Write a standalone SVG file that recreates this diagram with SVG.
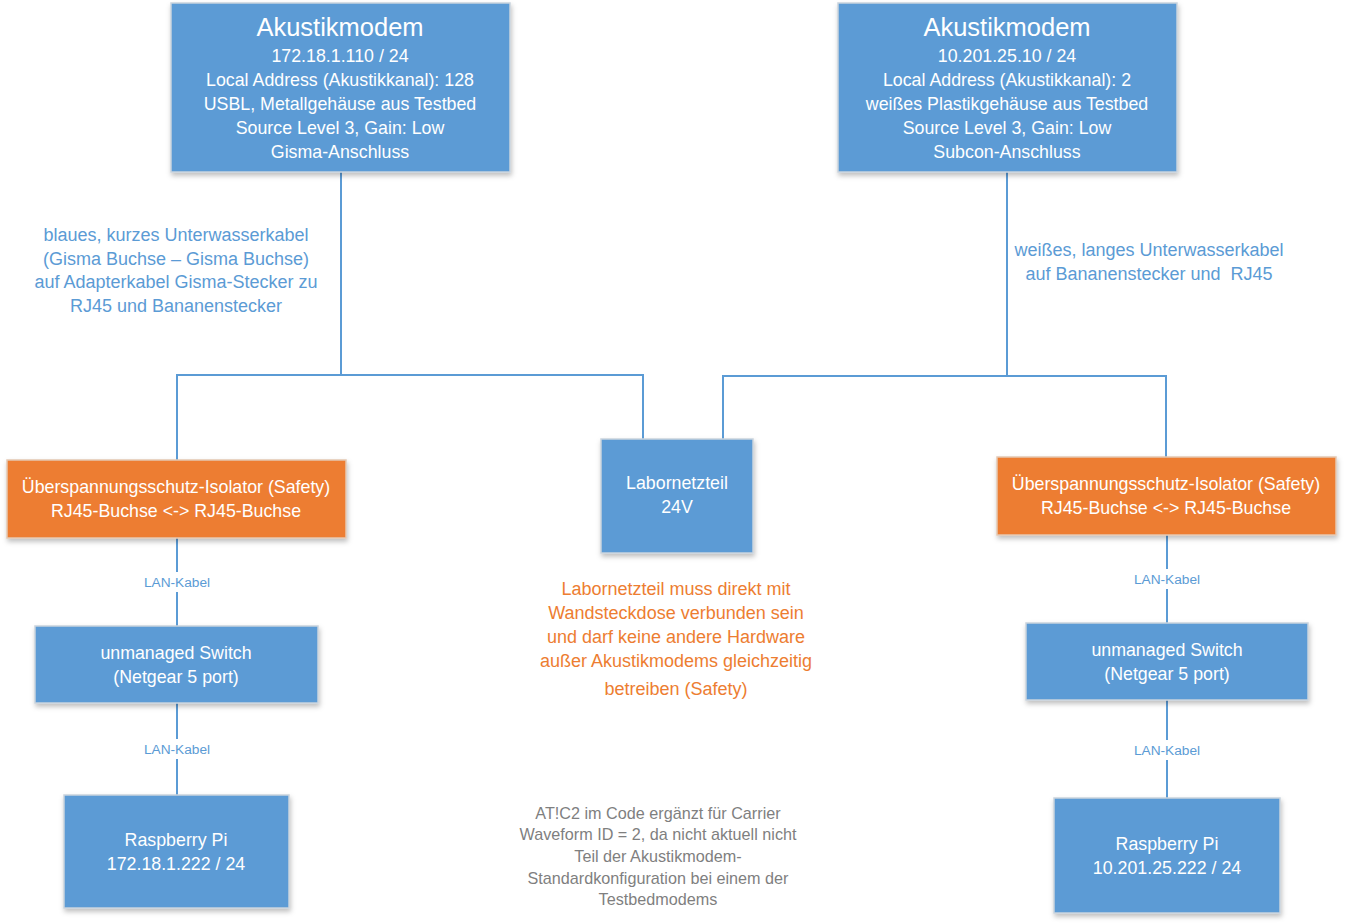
<svg xmlns="http://www.w3.org/2000/svg" width="1345" height="924" viewBox="0 0 1345 924">
<defs>
<filter id="sh" x="-10%" y="-10%" width="120%" height="130%">
<feDropShadow dx="1" dy="3" stdDeviation="2.5" flood-color="#000" flood-opacity="0.25"/>
</filter>
</defs>
<style>
text{font-family:"Liberation Sans","Noto Sans",Arial,sans-serif;text-anchor:middle}
.b{fill:#5B9BD5;stroke:#C9D3DD;stroke-width:1.5;filter:url(#sh)}
.o{fill:#ED7D31;stroke:#E4C8B2;stroke-width:1.5;filter:url(#sh)}
.w{fill:#fff;font-size:17.8px}
.t{fill:#fff;font-size:25.5px}
.c{fill:none;stroke:#5B9BD5;stroke-width:2}
.lb{fill:#5B9BD5;font-size:18px}
.ln{fill:#5B9BD5;font-size:13.7px}
.on{fill:#ED7D31;font-size:18px}
.gn{fill:#7F7F7F;font-size:16.2px}
</style>
<rect width="1345" height="924" fill="#fff"/>
<g id="connectors">
<polyline class="c" points="341,172 341,375 177,375 177,460"/>
<polyline class="c" points="341,375 643,375 643,439"/>
<polyline class="c" points="1007,172 1007,376 1166,376 1166,457"/>
<polyline class="c" points="1007,376 723,376 723,439"/>
<line class="c" x1="177" y1="538" x2="177" y2="626"/>
<line class="c" x1="177" y1="703" x2="177" y2="795"/>
<line class="c" x1="1167" y1="535" x2="1167" y2="623"/>
<line class="c" x1="1167" y1="700" x2="1167" y2="798"/>
<rect x="138" y="572" width="78" height="20" fill="#fff"/>
<text class="ln" x="177" y="587">LAN-Kabel</text>
<rect x="138" y="739" width="78" height="20" fill="#fff"/>
<text class="ln" x="177" y="754">LAN-Kabel</text>
<rect x="1128" y="569" width="78" height="20" fill="#fff"/>
<text class="ln" x="1167" y="584">LAN-Kabel</text>
<rect x="1128" y="740" width="78" height="20" fill="#fff"/>
<text class="ln" x="1167" y="755">LAN-Kabel</text>
<text class="lb" x="176" y="241">blaues, kurzes Unterwasserkabel</text>
<text class="lb" x="176" y="265">(Gisma Buchse – Gisma Buchse)</text>
<text class="lb" x="176" y="288">auf Adapterkabel Gisma-Stecker zu</text>
<text class="lb" x="176" y="312">RJ45 und Bananenstecker</text>
<text class="lb" x="1149" y="256">weißes, langes Unterwasserkabel</text>
<text class="lb" x="1149" y="280" xml:space="preserve">auf Bananenstecker und  RJ45</text>
</g>
<g id="modem1">
<rect class="b" x="171" y="3" width="339" height="169"/>
<text class="t" x="340" y="36">Akustikmodem</text>
<text class="w" x="340" y="62">172.18.1.110 / 24</text>
<text class="w" x="340" y="86">Local Address (Akustikkanal): 128</text>
<text class="w" x="340" y="110">USBL, Metallgehäuse aus Testbed</text>
<text class="w" x="340" y="134">Source Level 3, Gain: Low</text>
<text class="w" x="340" y="158">Gisma-Anschluss</text>
</g>
<g id="modem2">
<rect class="b" x="838" y="3" width="339" height="169"/>
<text class="t" x="1007" y="36">Akustikmodem</text>
<text class="w" x="1007" y="62">10.201.25.10 / 24</text>
<text class="w" x="1007" y="86">Local Address (Akustikkanal): 2</text>
<text class="w" x="1007" y="110">weißes Plastikgehäuse aus Testbed</text>
<text class="w" x="1007" y="134">Source Level 3, Gain: Low</text>
<text class="w" x="1007" y="158">Subcon-Anschluss</text>
</g>
<g id="iso1">
<rect class="o" x="7" y="460" width="339" height="78"/>
<text class="w" x="176" y="493">Überspannungsschutz-Isolator (Safety)</text>
<text class="w" x="176" y="517">RJ45-Buchse &lt;-&gt; RJ45-Buchse</text>
</g>
<g id="iso2">
<rect class="o" x="997" y="457" width="339" height="78"/>
<text class="w" x="1166" y="490">Überspannungsschutz-Isolator (Safety)</text>
<text class="w" x="1166" y="514">RJ45-Buchse &lt;-&gt; RJ45-Buchse</text>
</g>
<g id="psu">
<rect class="b" x="601" y="439" width="152" height="114"/>
<text class="w" x="677" y="489">Labornetzteil</text>
<text class="w" x="677" y="513">24V</text>
</g>
<g id="switch1">
<rect class="b" x="35" y="626" width="283" height="77"/>
<text class="w" x="176" y="659">unmanaged Switch</text>
<text class="w" x="176" y="683">(Netgear 5 port)</text>
</g>
<g id="switch2">
<rect class="b" x="1026" y="623" width="282" height="77"/>
<text class="w" x="1167" y="656">unmanaged Switch</text>
<text class="w" x="1167" y="680">(Netgear 5 port)</text>
</g>
<g id="rpi1">
<rect class="b" x="64" y="795" width="225" height="113"/>
<text class="w" x="176" y="846">Raspberry Pi</text>
<text class="w" x="176" y="870">172.18.1.222 / 24</text>
</g>
<g id="rpi2">
<rect class="b" x="1054" y="798" width="226" height="115"/>
<text class="w" x="1167" y="850">Raspberry Pi</text>
<text class="w" x="1167" y="874">10.201.25.222 / 24</text>
</g>
<g id="note-safety">
<text class="on" x="676" y="595">Labornetzteil muss direkt mit</text>
<text class="on" x="676" y="619">Wandsteckdose verbunden sein</text>
<text class="on" x="676" y="643">und darf keine andere Hardware</text>
<text class="on" x="676" y="667">außer Akustikmodems gleichzeitig</text>
<text class="on" x="676" y="695">betreiben (Safety)</text>
</g>
<g id="note-code">
<text class="gn" x="658" y="819">AT!C2 im Code ergänzt für Carrier</text>
<text class="gn" x="658" y="840">Waveform ID = 2, da nicht aktuell nicht</text>
<text class="gn" x="658" y="862">Teil der Akustikmodem-</text>
<text class="gn" x="658" y="884">Standardkonfiguration bei einem der</text>
<text class="gn" x="658" y="905">Testbedmodems</text>
</g>
</svg>
